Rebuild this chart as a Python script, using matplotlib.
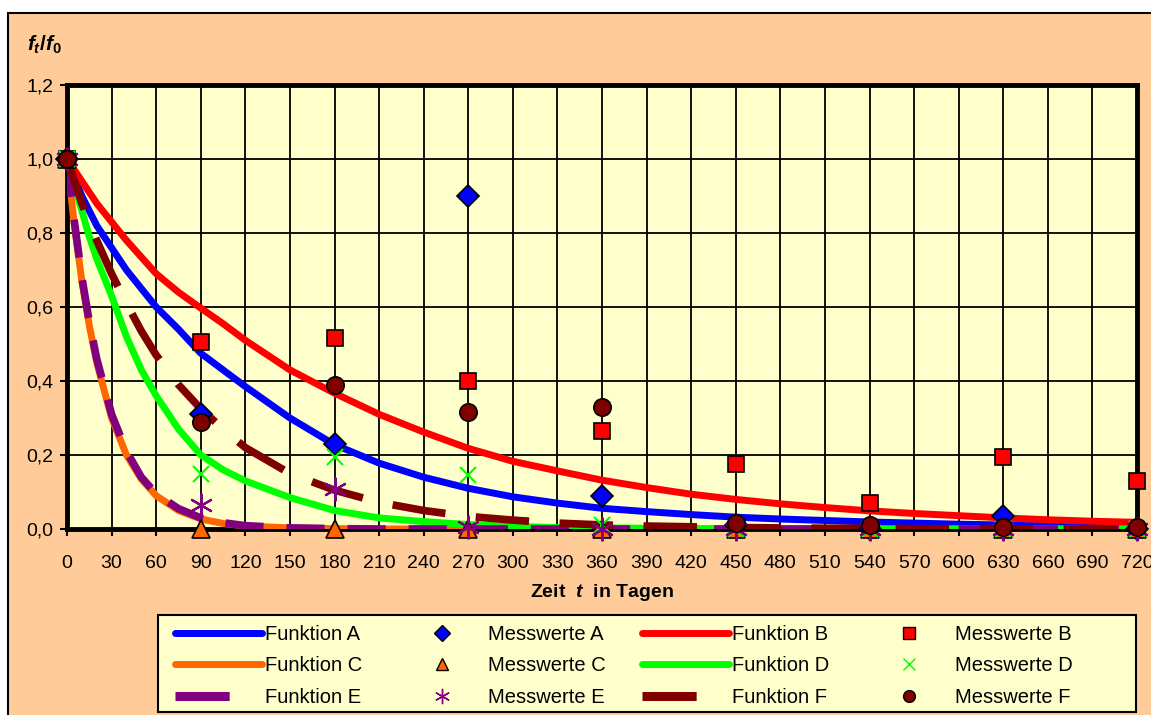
import numpy as np
import matplotlib
matplotlib.use("Agg")
import matplotlib.pyplot as plt
from matplotlib.patches import Rectangle
from matplotlib.lines import Line2D

plt.rcParams['font.family'] = ['Liberation Sans', 'DejaVu Sans']
plt.rcParams['mathtext.fontset'] = 'custom'
plt.rcParams['mathtext.it'] = 'Liberation Sans:italic:bold'
plt.rcParams['mathtext.rm'] = 'Liberation Sans:bold'

# Funktionsverläufe
days = [0, 5, 10, 15, 20, 30, 40, 50, 60, 75, 90, 105, 120, 150, 180, 210, 240,
        270, 300, 330, 360, 390, 420, 450, 480, 510, 540, 570, 600, 630, 660, 690, 720]
func_a = [1.0, 0.95, 0.90, 0.86, 0.82, 0.76, 0.70, 0.65, 0.60, 0.54, 0.475, 0.43, 0.385,
          0.30, 0.228, 0.178, 0.14, 0.11, 0.087, 0.07, 0.056, 0.047, 0.039, 0.032,
          0.027, 0.023, 0.019, 0.016, 0.013, 0.011, 0.009, 0.007, 0.006]
func_b = [1.0, 0.97, 0.94, 0.91, 0.88, 0.83, 0.78, 0.735, 0.69, 0.64, 0.597, 0.555, 0.51,
          0.43, 0.367, 0.31, 0.262, 0.218, 0.183, 0.157, 0.132, 0.112, 0.094, 0.08,
          0.068, 0.058, 0.049, 0.042, 0.036, 0.03, 0.025, 0.021, 0.018]
func_c = [1.0, 0.82, 0.67, 0.55, 0.45, 0.30, 0.20, 0.135, 0.09, 0.05, 0.027, 0.015, 0.008,
          0.003, 0.001, 0.0, 0.0, 0.0, 0.0, 0.0, 0.0, 0.0, 0.0, 0.0,
          0.0, 0.0, 0.0, 0.0, 0.0, 0.0, 0.0, 0.0, 0.0]
func_d = [1.0, 0.93, 0.86, 0.79, 0.73, 0.63, 0.52, 0.43, 0.36, 0.27, 0.20, 0.16, 0.13,
          0.085, 0.05, 0.03, 0.02, 0.012, 0.007, 0.004, 0.003, 0.002, 0.001, 0.001,
          0.0, 0.0, 0.0, 0.0, 0.0, 0.0, 0.0, 0.0, 0.0]
func_e = [1.0, 0.83, 0.68, 0.56, 0.46, 0.31, 0.21, 0.14, 0.095, 0.055, 0.03, 0.017, 0.009,
          0.003, 0.001, 0.0, 0.0, 0.0, 0.0, 0.0, 0.0, 0.0, 0.0, 0.0,
          0.0, 0.0, 0.0, 0.0, 0.0, 0.0, 0.0, 0.0, 0.0]
func_f = [1.0, 0.94, 0.88, 0.83, 0.78, 0.69, 0.61, 0.535, 0.47, 0.39, 0.325, 0.27, 0.22,
          0.15, 0.105, 0.072, 0.05, 0.034, 0.024, 0.016, 0.011, 0.008, 0.006, 0.004,
          0.003, 0.002, 0.002, 0.001, 0.001, 0.001, 0.0, 0.0, 0.0]

# Messwerte
mess_days = [0, 90, 180, 270, 360, 450, 540, 630, 720]
mess_a = [1.0, 0.31, 0.23, 0.90, 0.09, 0.01, 0.0, 0.035, 0.0]
mess_b = [1.0, 0.505, 0.515, 0.40, 0.265, 0.175, 0.07, 0.195, 0.13]
mess_c = [1.0, 0.0, 0.0, 0.0, 0.0, 0.0, 0.0, 0.0, 0.0]
mess_d = [1.0, 0.15, 0.195, 0.145, 0.01, 0.0, 0.0, 0.0, 0.0]
mess_e = [1.0, 0.065, 0.108, 0.005, 0.0, 0.0, 0.0, 0.0, 0.0]
mess_f = [1.0, 0.29, 0.39, 0.315, 0.33, 0.015, 0.01, 0.005, 0.005]

x_ticks = list(range(0, 721, 30))
y_ticks = [0.0, 0.2, 0.4, 0.6, 0.8, 1.0, 1.2]

W, H = 1151, 715
fig = plt.figure(figsize=(W / 100, H / 100), dpi=100, facecolor='white')
fig.patches.append(Rectangle((8 / W, -0.1), 1.2, 1 - 13 / H + 0.1,
                             transform=fig.transFigure, facecolor='#FFCC99',
                             edgecolor='black', lw=1.5, zorder=-10))
# Legendenrahmen
fig.patches.append(Rectangle((158 / W, 1 - 712 / H), (1136 - 158) / W, (712 - 615) / H,
                             transform=fig.transFigure, facecolor='#FFFFCC',
                             edgecolor='black', lw=1.5, zorder=-5))

ax = fig.add_axes([67 / W, 1 - 529 / H, (1137 - 67) / W, (529 - 85) / H])
ax.set_facecolor('#FFFFCC')

lw = 5
la, = ax.plot(days, func_a, color='#0000FF', lw=lw, zorder=3)
lb, = ax.plot(days, func_b, color='#FF0000', lw=lw, zorder=3)
lc, = ax.plot(days, func_c, color='#FF6600', lw=lw, zorder=3)
ld, = ax.plot(days, func_d, color='#00FF00', lw=lw, zorder=3)
le, = ax.plot(days, func_e, color='#800080', lw=5.5, dashes=(5, 3), zorder=3)
lf, = ax.plot(days, func_f, color='#800000', lw=5.5, dashes=(7, 4), zorder=3)

mk = dict(ls='none', clip_on=False, zorder=5)
ma, = ax.plot(mess_days, mess_a, marker='D', ms=11, mfc='#0000FF', mec='black', mew=1.2, **mk)
mb, = ax.plot(mess_days, mess_b, marker='s', ms=12, mfc='#FF0000', mec='black', mew=1.2, **mk)
mc, = ax.plot(mess_days, mess_c, marker='^', ms=13, mfc='#FF6600', mec='black', mew=1.2, **mk)
md, = ax.plot(mess_days, mess_d, marker='x', ms=11, mec='#00FF00', mew=1.5, **mk)
me, = ax.plot(mess_days, mess_e, marker=(6, 2, 0), ms=17, mec='#800080', mew=1.6, **mk)
mf, = ax.plot(mess_days, mess_f, marker='o', ms=12.5, mfc='#800000', mec='black', mew=1.2, **mk)

ax.set_xlim(0, 720)
ax.set_ylim(0, 1.2)
ax.set_xticks(x_ticks)
ax.set_xticklabels([str(v) for v in x_ticks])
ax.set_yticks(y_ticks)
ax.set_yticklabels([f"{v:.1f}".replace('.', ',') for v in y_ticks])
ax.tick_params(direction='out', length=5, width=1.5, labelsize=14)
ax.tick_params(axis='x', pad=14)
ax.tick_params(axis='y', pad=5)
ax.grid(True, color='black', lw=1.3)
ax.set_axisbelow(True)
for s in ax.spines.values():
    s.set_linewidth(3.5)
    s.set_color('black')

ax.set_xlabel(r"Zeit  $t$  in Tagen", fontsize=14, fontweight='bold', labelpad=7)
fig.text(27 / W, 1 - 45 / H, r"$f_t/f_0$", fontsize=15, va='center', ha='left')

# Legende: Spalten A/C/E, Messwerte, B/D/F, Messwerte
def leg_line(color, dashed=False):
    if dashed:
        return Line2D([], [], color=color, lw=6.5, dashes=(6, 30), dash_capstyle='butt')
    return Line2D([], [], color=color, lw=5, solid_capstyle='round')

def leg_mark(h, ms):
    return Line2D([], [], ls='none', marker=h.get_marker(), ms=ms,
                  mfc=h.get_markerfacecolor(), mec=h.get_markeredgecolor(), mew=1.0)

handles = [leg_line('#0000FF'), leg_line('#FF6600'), leg_line('#800080', True),
           leg_mark(ma, 8), leg_mark(mc, 9), leg_mark(me, 11),
           leg_line('#FF0000'), leg_line('#00FF00'), leg_line('#800000', True),
           leg_mark(mb, 8), leg_mark(md, 9), leg_mark(mf, 8.5)]
labels = ["Funktion A", "Funktion C", "Funktion E",
          "Messwerte A", "Messwerte C", "Messwerte E",
          "Funktion B", "Funktion D", "Funktion F",
          "Messwerte B", "Messwerte D", "Messwerte F"]
fs_leg = 14.5
px_em = fs_leg * 100 / 72
leg = fig.legend(handles, labels, ncol=4, loc='upper left',
                 bbox_to_anchor=(175 / W, 1 - 625 / H),
                 bbox_transform=fig.transFigure, fontsize=fs_leg,
                 handlelength=87 / px_em, handletextpad=3 / px_em,
                 columnspacing=36 / px_em, labelspacing=0.62,
                 borderpad=0, borderaxespad=0, frameon=False)

fig.savefig("out.png", dpi=100, facecolor=fig.get_facecolor())
